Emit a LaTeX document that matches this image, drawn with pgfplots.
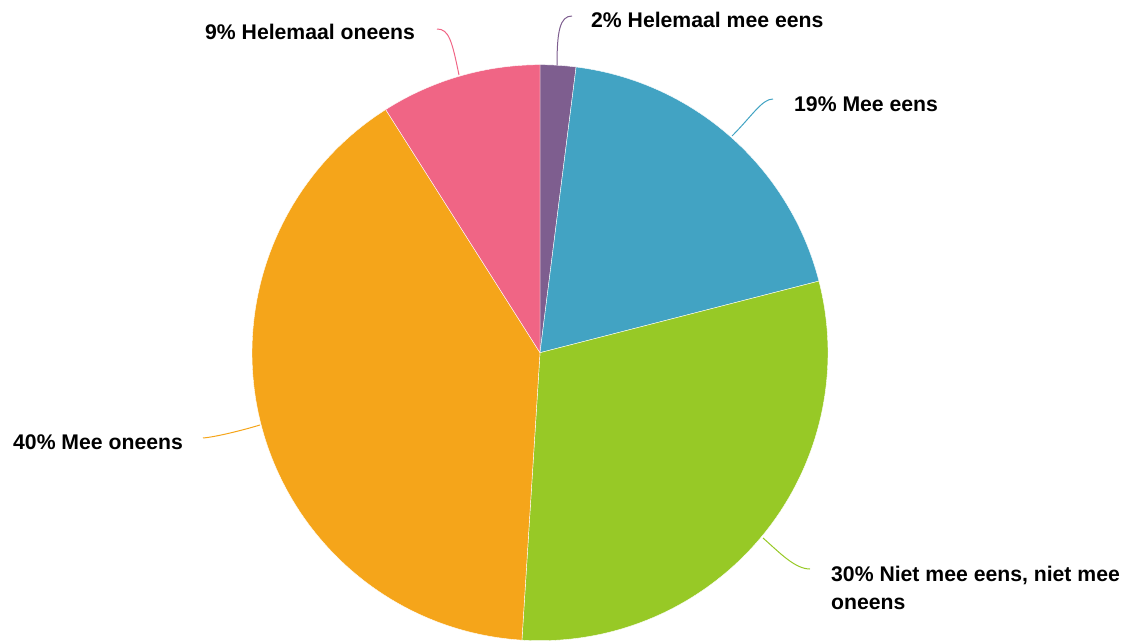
\documentclass[border=0pt]{standalone}
\usepackage{pgfplots}
\pgfplotsset{compat=1.18}
\usepackage{fontspec}
\setmainfont{Liberation Sans}
\definecolor{cpurple}{HTML}{7E5E8F}
\definecolor{cblue}{HTML}{42A3C3}
\definecolor{cgreen}{HTML}{97C926}
\definecolor{corange}{HTML}{F5A51A}
\definecolor{cpink}{HTML}{F06585}
\begin{document}
\begin{tikzpicture}
\begin{axis}[x=1pt,y=1pt,xmin=0,xmax=1127,ymin=0,ymax=641,hide axis,clip=false,scale only axis]
\coordinate (bl) at (axis cs:0,0);
\coordinate (tr) at (axis cs:1127,641);
\gdef\cum{0}
\foreach \v/\c in {2/cpurple,19/cblue,30/cgreen,40/corange,9/cpink}{
  \pgfmathsetmacro{\a}{90-3.6*\cum}
  \pgfmathsetmacro{\b}{90-3.6*(\cum+\v)}
  \edef\temp{\noexpand\fill[\c,draw=white,line width=0.4pt] (axis cs:540,288.3) -- ++(\a:288pt) arc[start angle=\a,end angle=\b,radius=288pt] -- cycle;}
  \temp
  \pgfmathsetmacro{\n}{\cum+\v}\xdef\cum{\n}
}
% leader lines
\draw[cpink,line width=1pt] (axis cs:459,566) .. controls (axis cs:452,600) and (axis cs:449,612) .. (axis cs:437,612);
\draw[cpurple,line width=1pt] (axis cs:557,576) .. controls (axis cs:557,610) and (axis cs:560,625) .. (axis cs:572,625);
\draw[cblue,line width=1pt] (axis cs:732,505) .. controls (axis cs:752,525) and (axis cs:762,542) .. (axis cs:773,542);
\draw[corange,line width=1pt] (axis cs:260,216) .. controls (axis cs:240,210) and (axis cs:215,204) .. (axis cs:203,203);
\draw[cgreen,line width=1pt] (axis cs:763,103) .. controls (axis cs:780,88) and (axis cs:795,72) .. (axis cs:810,72);
% labels
\begin{scope}[every node/.style={anchor=base west,inner sep=0pt,font=\bfseries\fontsize{21.2}{25}\selectfont}]
\node at (axis cs:205,601) {9\% Helemaal oneens};
\node at (axis cs:591,613) {2\% Helemaal mee eens};
\node at (axis cs:794,529) {19\% Mee eens};
\node at (axis cs:13,192) {40\% Mee oneens};
\node at (axis cs:831,60) {30\% Niet mee eens, niet mee};
\node at (axis cs:831,32) {oneens};
\end{scope}
\end{axis}
\pgfresetboundingbox
\path (bl) rectangle (tr);
\end{tikzpicture}
\end{document}
